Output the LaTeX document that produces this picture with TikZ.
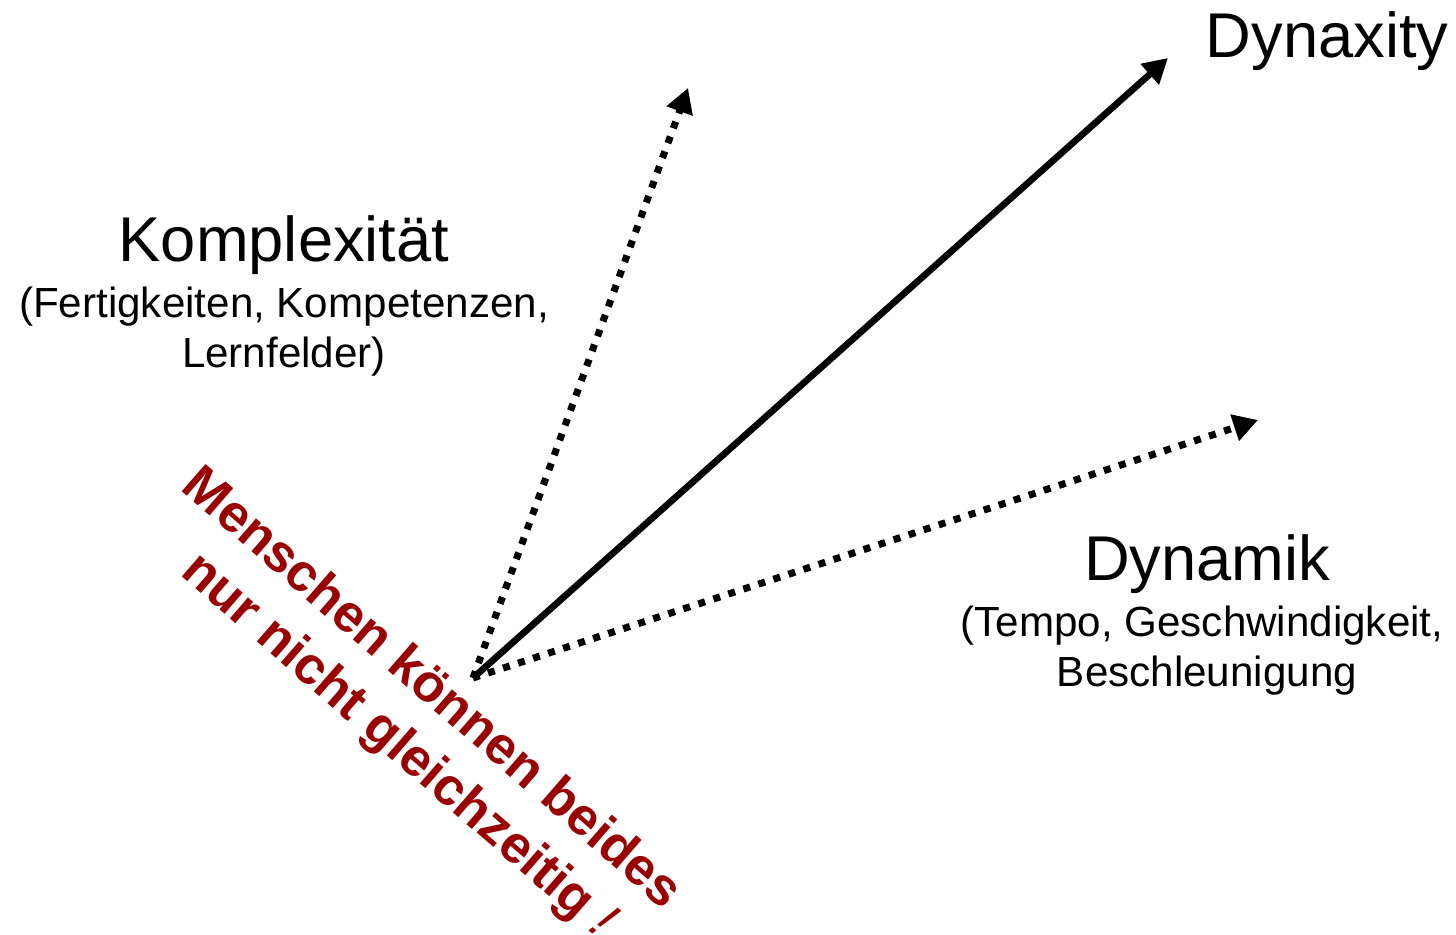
\documentclass[tikz,border=0pt]{standalone}
\usepackage{fontspec}
\setmainfont{Liberation Sans}
\usetikzlibrary{arrows.meta}
\definecolor{darkred}{HTML}{990000}
\begin{document}
\begin{tikzpicture}[x=0.02cm,y=-0.02cm,
 arr/.style={line width=3.8pt,-{Triangle[length=14pt,width=15pt]}},
 dotarr/.style={arr, line width=4pt, dash pattern=on 4pt off 5pt},
 big/.style={font=\fontsize{36}{40}\selectfont, anchor=base, inner sep=0pt},
 small/.style={font=\fontsize{24}{28.3}\selectfont, anchor=base, inner sep=0pt},
 warn/.style={font=\fontsize{30}{36}\selectfont\bfseries, text=darkred, rotate=-41, anchor=base, inner sep=0pt}]
\useasboundingbox (0,0) rectangle (1456,935);
\coordinate (o) at (473,678);
\coordinate (dx) at (1168,58);
\coordinate (ko) at (688,88);
\coordinate (dy) at (1258,420);
\draw[arr] (o) -- (dx);
\draw[dotarr] (o) -- (ko);
\draw[dotarr] (o) -- (dy);
\node[big] (tdx) at (1327,58) {Dynaxity};
\node[big] (tko) at (284,262) {Komplexität};
\node[small] (tko1) at (284,318) {(Fertigkeiten, Kompetenzen,};
\node[small] (tko2) at (284,368) {Lernfelder)};
\node[big] (tdy) at (1207,580) {Dynamik};
\node[small] (tdy1) at (1202,636) {(Tempo, Geschwindigkeit,};
\node[small] (tdy2) at (1207,686) {Beschleunigung};
\node[warn] (w1) at (422,700) {Menschen können beides};
\node[warn] (w2) at (389,757) {nur nicht gleichzeitig {\mdseries\itshape !}};
\end{tikzpicture}
\end{document}
